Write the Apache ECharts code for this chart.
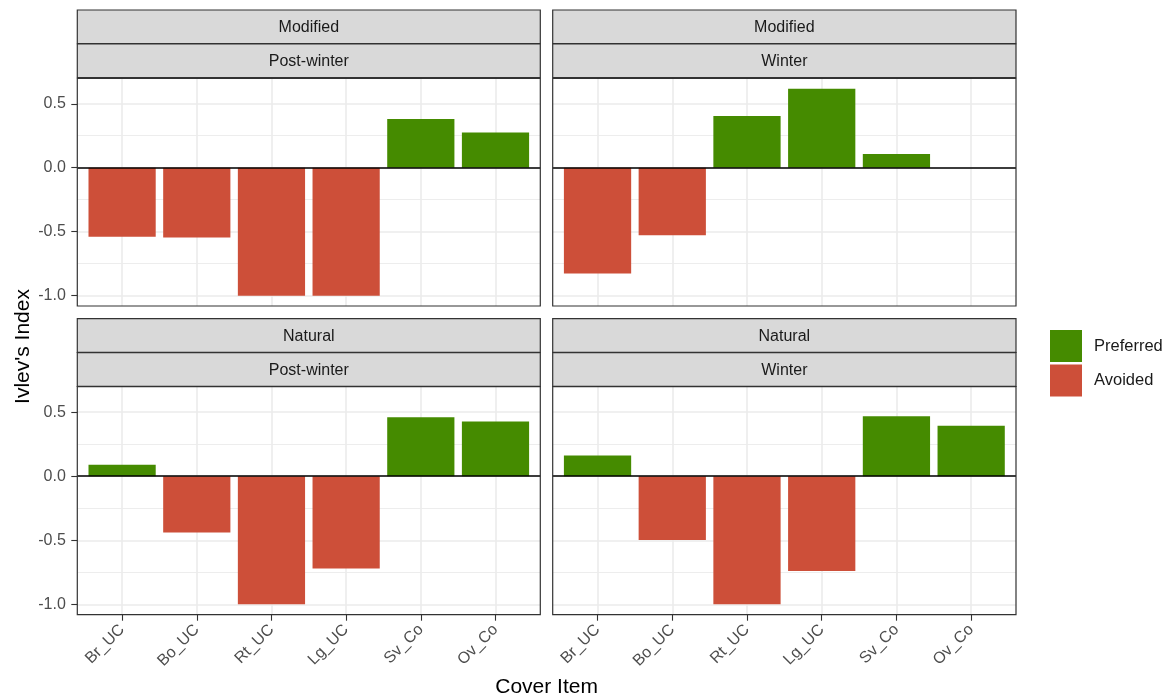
<!DOCTYPE html>
<html>
<head>
<meta charset="utf-8">
<script src="https://cdn.jsdelivr.net/npm/echarts@6/dist/echarts.min.js"></script>
<style>
html,body{margin:0;padding:0;background:#fff;}
#chart{width:1173px;height:698px;}
</style>
</head>
<body>
<div id="chart"></div>
<script>
// ---------- data ----------
const categories = ['Br_UC', 'Bo_UC', 'Rt_UC', 'Lg_UC', 'Sv_Co', 'Ov_Co'];
const modifiedPostWinter = [-0.54, -0.545, -1.0, -1.0, 0.38, 0.275];
const modifiedWinter = [-0.826, -0.527, 0.405, 0.618, 0.107, 0.0];
const naturalPostWinter = [0.089, -0.44, -1.0, -0.72, 0.46, 0.427];
const naturalWinter = [0.162, -0.497, -1.0, -0.74, 0.469, 0.394];
const yTicks = [-1.0, -0.5, 0.0, 0.5];
const yMinorTicks = [-0.75, -0.25, 0.25];
const xTicks = [1, 2, 3, 4, 5, 6];
const seriesNames = ['Preferred', 'Avoided'];
const stripTop = ['Modified', 'Modified', 'Natural', 'Natural'];
const stripBottom = ['Post-winter', 'Winter', 'Post-winter', 'Winter'];
const panelValues = [modifiedPostWinter, modifiedWinter, naturalPostWinter, naturalWinter];

// ---------- layout / style ----------
const FONT = '"Liberation Sans", Arial, Helvetica, sans-serif';
const GREEN = '#458B00', RED = '#CD4F39';
const Y_MIN = -1.081, Y_MAX = 0.699;
const X_MIN = 0.4, X_MAX = 6.6;
const panels = [
  {x: 77.3, y: 78.3, w: 463, h: 227.7, s1: 10, s2: 44, left: true, bottom: false},
  {x: 552.7, y: 78.3, w: 463.3, h: 227.7, s1: 10, s2: 44, left: false, bottom: false},
  {x: 77.3, y: 386.7, w: 463, h: 228, s1: 318.7, s2: 352.7, left: true, bottom: true},
  {x: 552.7, y: 386.7, w: 463.3, h: 228, s1: 318.7, s2: 352.7, left: false, bottom: true}
];

const grids = [], xAxes = [], yAxes = [], series = [], graphics = [];

panels.forEach((p, i) => {
  grids.push({left: p.x, top: p.y, width: p.w, height: p.h, show: false});
  const barW = 0.9 * p.w / (X_MAX - X_MIN);
  xAxes.push({
    type: 'value', gridIndex: i, min: X_MIN, max: X_MAX, minInterval: 1, maxInterval: 1,
    position: 'bottom',
    axisLine: {show: false, onZero: false},
    axisTick: {show: p.bottom, customValues: xTicks, length: 6, lineStyle: {color: '#333333', width: 1.1}},
    axisLabel: {
      show: p.bottom, customValues: xTicks, rotate: 45, align: 'right', verticalAlign: 'middle',
      margin: 12.5, fontSize: 16, color: '#4D4D4D', fontFamily: FONT,
      formatter: v => categories[Math.round(v) - 1] || ''
    },
    splitLine: {show: true, showMinLine: true, showMaxLine: true, lineStyle: {color: '#EBEBEB', width: 1.6}}
  });
  yAxes.push({
    type: 'value', gridIndex: i, min: Y_MIN, max: Y_MAX, minInterval: 0.5, maxInterval: 0.5,
    position: 'left',
    axisLine: {show: false, onZero: false},
    axisTick: {show: p.left, customValues: yTicks, length: 6, lineStyle: {color: '#333333', width: 1.1}},
    axisLabel: {show: p.left, customValues: yTicks, margin: 11.5, fontSize: 16, color: '#4D4D4D', fontFamily: FONT,
      formatter: v => v.toFixed(1)},
    splitLine: {show: true, showMinLine: true, showMaxLine: true, lineStyle: {color: '#EBEBEB', width: 1.6}}
  });
  yAxes.push({
    type: 'value', gridIndex: i, min: Y_MIN, max: Y_MAX, minInterval: 0.25, maxInterval: 0.25,
    position: 'left',
    axisLine: {show: false, onZero: false},
    axisTick: {show: false, customValues: yMinorTicks},
    axisLabel: {show: false, customValues: yMinorTicks},
    splitLine: {show: true, showMinLine: true, showMaxLine: true, lineStyle: {color: '#EBEBEB', width: 0.9}}
  });
  const vals = panelValues[i];
  const pref = vals.map((v, k) => [k + 1, v >= 0 ? v : '-']);
  const avoid = vals.map((v, k) => [k + 1, v < 0 ? v : '-']);
  series.push({
    name: seriesNames[0], type: 'bar', xAxisIndex: i, yAxisIndex: 2 * i, data: pref,
    barWidth: barW, barGap: '-100%', itemStyle: {color: GREEN},
    markLine: {
      silent: true, symbol: ['none', 'none'], label: {show: false},
      lineStyle: {color: '#000000', width: 1.6, type: 'solid'},
      data: [{yAxis: 0}], animation: false
    }
  });
  series.push({
    name: seriesNames[1], type: 'bar', xAxisIndex: i, yAxisIndex: 2 * i, data: avoid,
    barWidth: barW, barGap: '-100%', itemStyle: {color: RED}
  });
  // panel border
  graphics.push({type: 'rect', z: 100, shape: {x: p.x, y: p.y, width: p.w, height: p.h},
    style: {fill: 'none', stroke: '#333333', lineWidth: 1.2}});
  // strips
  [[p.s1, stripTop[i]], [p.s2, stripBottom[i]]].forEach(([sy, txt]) => {
    graphics.push({type: 'rect', z: 100, shape: {x: p.x, y: sy, width: p.w, height: 33.6},
      style: {fill: '#D9D9D9', stroke: '#333333', lineWidth: 1.2}});
    graphics.push({type: 'text', z: 101, x: p.x + p.w / 2, y: sy + 17.6,
      style: {text: txt, fill: '#1A1A1A', font: '16px ' + FONT, align: 'center', verticalAlign: 'middle'}});
  });
});

// axis titles
graphics.push({type: 'text', z: 101, x: 546.6, y: 687,
  style: {text: 'Cover Item', fill: '#000000', font: '21px ' + FONT, align: 'center', verticalAlign: 'middle'}});
graphics.push({type: 'text', z: 101, x: 23, y: 346.5, rotation: Math.PI / 2,
  style: {text: "Ivlev's Index", fill: '#000000', font: '21px ' + FONT, align: 'center', verticalAlign: 'middle'}});

const chart = echarts.init(document.getElementById('chart'), null, {renderer: 'canvas'});
chart.setOption({
  animation: false,
  backgroundColor: '#ffffff',
  legend: {
    data: seriesNames, orient: 'vertical', left: 1050, top: 330, padding: 0, icon: 'rect',
    itemWidth: 32, itemHeight: 32, itemGap: 2.6,
    textStyle: {fontSize: 16.5, color: '#1A1A1A', fontFamily: FONT, padding: [0, 0, 0, 7]},
    selectedMode: false
  },
  grid: grids, xAxis: xAxes, yAxis: yAxes, series: series, graphic: graphics
});
</script>
</body>
</html>
